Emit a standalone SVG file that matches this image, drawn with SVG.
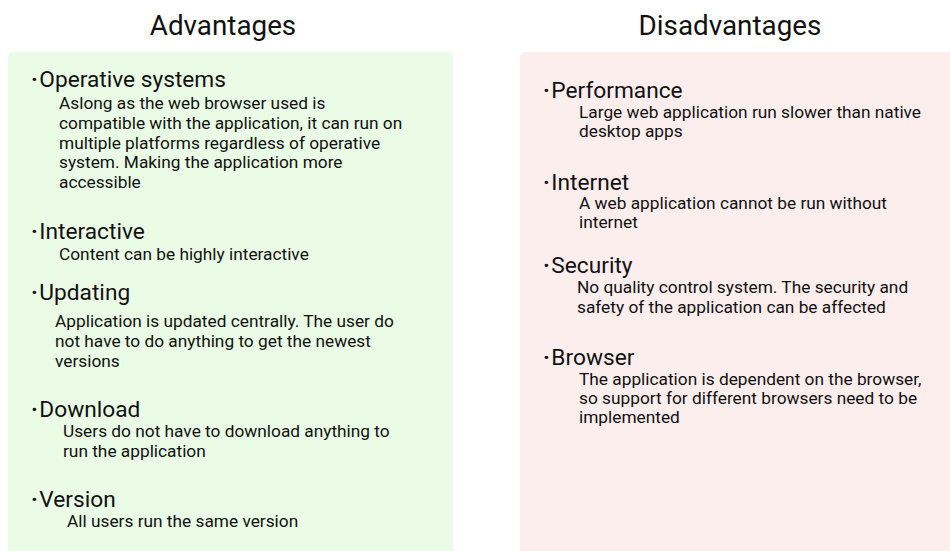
<svg xmlns="http://www.w3.org/2000/svg" width="950" height="551" viewBox="0 0 950 551">
<style>
text{font-family:Roboto,"Liberation Sans",sans-serif;fill:#111}
.title{font-size:27.8px;text-anchor:middle}
.head{font-size:22.7px}
.body{font-size:17.3px}
.dot{font-weight:bold}
</style>
<rect x="0" y="0" width="950" height="551" fill="#fff"/>
<g id="advantages">
<rect x="8" y="52" width="445" height="510" rx="5" fill="#ebfce6"/>
<text class="title" x="223" y="35">Advantages</text>
<g id="adv-os">
<text class="head" x="31" y="87"><tspan class="dot">·</tspan><tspan dx="1.5">Operative systems</tspan></text>
<text class="body"><tspan x="59" y="109">Aslong as the web browser used is</tspan><tspan x="59" y="129">compatible with the application, it can run on</tspan><tspan x="59" y="149">multiple platforms regardless of operative</tspan><tspan x="59" y="168">system. Making the application more</tspan><tspan x="59" y="188">accessible</tspan></text>
</g>
<g id="adv-interactive">
<text class="head" x="31" y="239"><tspan class="dot">·</tspan><tspan dx="1.5">Interactive</tspan></text>
<text class="body" x="59" y="260">Content can be highly interactive</text>
</g>
<g id="adv-updating">
<text class="head" x="31" y="300"><tspan class="dot">·</tspan><tspan dx="1.5">Updating</tspan></text>
<text class="body"><tspan x="55" y="327">Application is updated centrally. The user do</tspan><tspan x="55" y="347">not have to do anything to get the newest</tspan><tspan x="55" y="367">versions</tspan></text>
</g>
<g id="adv-download">
<text class="head" x="31" y="417"><tspan class="dot">·</tspan><tspan dx="1.5">Download</tspan></text>
<text class="body"><tspan x="63" y="437">Users do not have to download anything to</tspan><tspan x="63" y="457">run the application</tspan></text>
</g>
<g id="adv-version">
<text class="head" x="31" y="507"><tspan class="dot">·</tspan><tspan dx="1.5">Version</tspan></text>
<text class="body" x="67" y="527">All users run the same version</text>
</g>
</g>
<g id="disadvantages">
<rect x="520" y="52" width="440" height="510" rx="5" fill="#fdeeee"/>
<text class="title" x="730" y="35">Disadvantages</text>
<g id="dis-performance">
<text class="head" x="543" y="98"><tspan class="dot">·</tspan><tspan dx="1.5">Performance</tspan></text>
<text class="body"><tspan x="579" y="118">Large web application run slower than native</tspan><tspan x="579" y="137">desktop apps</tspan></text>
</g>
<g id="dis-internet">
<text class="head" x="543" y="190"><tspan class="dot">·</tspan><tspan dx="1.5">Internet</tspan></text>
<text class="body"><tspan x="579" y="209">A web application cannot be run without</tspan><tspan x="579" y="228">internet</tspan></text>
</g>
<g id="dis-security">
<text class="head" x="543" y="273"><tspan class="dot">·</tspan><tspan dx="1.5">Security</tspan></text>
<text class="body"><tspan x="577" y="293">No quality control system. The security and</tspan><tspan x="577" y="313">safety of the application can be affected</tspan></text>
</g>
<g id="dis-browser">
<text class="head" x="543" y="365"><tspan class="dot">·</tspan><tspan dx="1.5">Browser</tspan></text>
<text class="body"><tspan x="579" y="385">The application is dependent on the browser,</tspan><tspan x="579" y="404">so support for different browsers need to be</tspan><tspan x="579" y="423">implemented</tspan></text>
</g>
</g>
</svg>
